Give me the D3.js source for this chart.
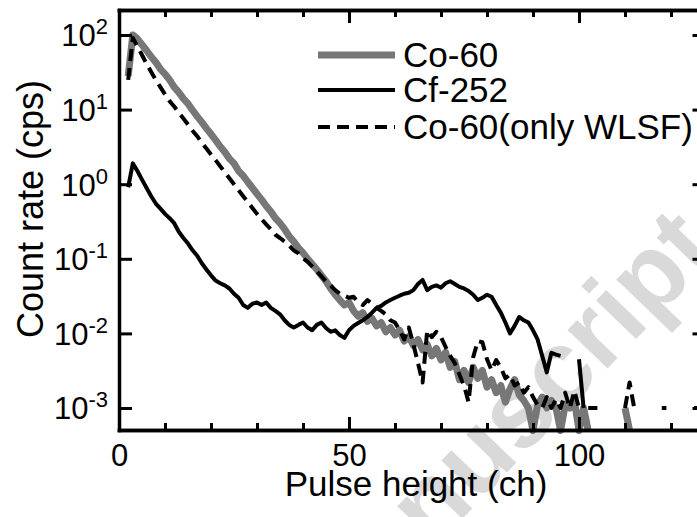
<!DOCTYPE html>
<html>
<head>
<meta charset="utf-8">
<script src="https://cdn.jsdelivr.net/npm/d3@7"></script>
<style>
body { margin: 0; background: #fff; }
svg text { font-family: "Liberation Sans", Arial, sans-serif; fill: #000; }
</style>
</head>
<body>
<svg id="chart"></svg>
<script>
// pulse height spectra, one value per channel starting at channel 2 (cps, 0 = no counts)
let firstChannel = 2

let co60 = [
  28, 100, 89, 74, 62, 51, 43, 35, 30, 25,
  20, 17, 14, 12, 9.8, 8.1, 6.8, 5.6, 4.7, 3.9,
  3.2, 2.7, 2.2, 1.9, 1.5, 1.3, 1.07, 0.89, 0.74, 0.62,
  0.51, 0.43, 0.35, 0.30, 0.25, 0.20, 0.17, 0.14, 0.12, 0.10,
  0.085, 0.072, 0.060, 0.050, 0.040, 0.033, 0.028, 0.024, 0.026, 0.020,
  0.017, 0.019, 0.0145, 0.016, 0.0126, 0.014, 0.0105, 0.012, 0.0095, 0.011,
  0.0079, 0.0091, 0.0069, 0.0083, 0.0060, 0.0071, 0.0050, 0.0063, 0.0044, 0.0056,
  0.0035, 0.0042, 0.0024, 0.0032, 0.0022, 0.0035, 0.0025, 0.0032, 0.0019, 0.0024,
  0.0016, 0.0020, 0.0012, 0.0018, 0.0024, 0.0015, 0.00126, 0.0010, 0.0005, 0.0011,
  0.0014, 0.0010, 0.00126, 0.0010, 0.0005, 0.0011, 0.0010, 0.00126, 0.0005, 0.0010,
  0.0005, 0, 0, 0, 0, 0, 0, 0, 0.0010, 0.0005,
  0, 0, 0, 0, 0, 0, 0, 0, 0, 0,
  0, 0, 0, 0, 0
]

let cf252 = [
  0.91, 1.9, 1.5, 1.15, 0.89, 0.69, 0.55, 0.47, 0.40, 0.35,
  0.30, 0.23, 0.19, 0.16, 0.13, 0.11, 0.087, 0.072, 0.060, 0.051,
  0.047, 0.044, 0.040, 0.034, 0.030, 0.024, 0.022, 0.025, 0.026, 0.024,
  0.026, 0.022, 0.020, 0.018, 0.015, 0.013, 0.012, 0.013, 0.014, 0.012,
  0.011, 0.013, 0.014, 0.0118, 0.0105, 0.011, 0.0095, 0.0087, 0.011, 0.0126,
  0.0138, 0.015, 0.0166, 0.019, 0.022, 0.0234, 0.026, 0.028, 0.030, 0.032,
  0.034, 0.035, 0.038, 0.046, 0.052, 0.038, 0.042, 0.044, 0.041, 0.047,
  0.050, 0.046, 0.042, 0.040, 0.037, 0.033, 0.028, 0.030, 0.033, 0.031,
  0.024, 0.019, 0.014, 0.010, 0.0126, 0.0166, 0.015, 0.014, 0.011, 0.0083,
  0.0050, 0.0030, 0.0055, 0.0052, 0.0050, 0, 0, 0, 0.0045, 0.0010,
  0, 0, 0, 0, 0, 0, 0, 0, 0, 0,
  0, 0, 0, 0, 0, 0, 0, 0, 0, 0,
  0, 0, 0, 0, 0
]

let co60Wlsf = [
  25, 91, 71, 54, 41, 32, 25, 20, 16, 13,
  11, 9.1, 7.6, 6.3, 5.2, 4.4, 3.6, 3.0, 2.5, 2.1,
  1.74, 1.45, 1.2, 1.0, 0.83, 0.69, 0.58, 0.48, 0.40, 0.34,
  0.29, 0.25, 0.21, 0.19, 0.17, 0.15, 0.13, 0.118, 0.102, 0.091,
  0.079, 0.068, 0.058, 0.050, 0.044, 0.038, 0.034, 0.032, 0.030, 0.031,
  0.026, 0.024, 0.028, 0.025, 0.022, 0.020, 0.018, 0.015, 0.014, 0.011,
  0.0083, 0.012, 0.0071, 0.0040, 0.0022, 0.011, 0.0089, 0.0105, 0.0089, 0.0066,
  0.0050, 0.0040, 0.0028, 0.0020, 0.0012, 0.0048, 0.0079, 0.0076, 0.0045, 0.0032,
  0.0044, 0.0035, 0.0025, 0.0028, 0.0020, 0.0022, 0.0016, 0.0019, 0.0014, 0.0011,
  0.0010, 0.0014, 0.0010, 0.0013, 0.0010, 0.0016, 0.0010, 0.0017, 0.0010, 0,
  0.0010, 0.0010, 0.0010, 0, 0, 0, 0, 0, 0.0010, 0.0022,
  0.0010, 0, 0, 0, 0, 0, 0.0010, 0.0010, 0, 0,
  0, 0, 0, 0.0010, 0.0010
]

let seriesNames = ['Co-60', 'Cf-252', 'Co-60(only WLSF)']
let xMajorTicks = [0, 50, 100]
let xMinorTicks = [10, 20, 30, 40, 60, 70, 80, 90, 110, 120]
let yTicks = [1e-3, 1e-2, 1e-1, 1e0, 1e1, 1e2]
let yExponents = ['-3', '-2', '-1', '0', '1', '2']
let xTitle = 'Pulse height (ch)'
let yTitle = 'Count rate (cps)'
let watermark = 'Accepted Manuscript'

let width = 697
let height = 517

let svg = d3.select('#chart')
svg.attr('width', width)
   .attr('height', height)

let xScale = d3.scaleLinear()
               .domain([0, 127.5])
               .range([119, 705.5])

let yScale = d3.scaleLog()
               .domain([Math.pow(10, -3.295), Math.pow(10, 2.335)])
               .range([430, 10])

/* watermark behind everything */
svg.append('text')
   .attr('transform', 'translate(720,252) rotate(-46)')
   .attr('text-anchor', 'end')
   .style('font-size', '105px')
   .style('font-weight', 'bold')
   .style('fill', '#d9d9d9')
   .text(watermark)

/* curves */
let toPoints = (values) => values.map((v, i) => ({ch: firstChannel + i, v: v}))

let line = d3.line()
             .defined((d) => d.v > 0)
             .x((d) => xScale(d.ch))
             .y((d) => yScale(d.v))

let styles = [
  {stroke: '#777', width: 7, dash: null},
  {stroke: '#000', width: 4, dash: null},
  {stroke: '#000', width: 4, dash: '12,7'}
]
let allSeries = [co60, cf252, co60Wlsf]

allSeries.forEach((values, i) => {
  svg.append('path')
     .datum(toPoints(values))
     .attr('d', line)
     .attr('fill', 'none')
     .attr('stroke', styles[i].stroke)
     .attr('stroke-width', styles[i].width)
     .attr('stroke-linejoin', 'round')
     .attr('stroke-dasharray', styles[i].dash)
})

/* axes, ticks pointing inward */
function styleAxis(g) {
  g.attr('font-size', null).attr('font-family', null)
  g.select('.domain').attr('stroke-width', 3.5).attr('stroke-linecap', 'square')
  g.selectAll('.tick line').attr('stroke-width', 3)
}

let bottom = svg.append('g')
   .attr('transform', 'translate(0,430)')
   .call(d3.axisBottom(xScale).tickValues(xMajorTicks).tickSize(-13).tickSizeOuter(0))
   .call(styleAxis)
bottom.selectAll('.tick text')
   .attr('y', 36)
   .attr('dy', 0)
   .style('font-size', '31px')

svg.append('g')
   .attr('transform', 'translate(0,430)')
   .call(d3.axisBottom(xScale).tickValues(xMinorTicks).tickSize(-7).tickSizeOuter(0).tickFormat(''))
   .call(styleAxis)

svg.append('g')
   .attr('transform', 'translate(0,10)')
   .call(d3.axisTop(xScale).tickValues(xMajorTicks).tickSize(-13).tickSizeOuter(0).tickFormat(''))
   .call(styleAxis)

svg.append('g')
   .attr('transform', 'translate(0,10)')
   .call(d3.axisTop(xScale).tickValues(xMinorTicks).tickSize(-7).tickSizeOuter(0).tickFormat(''))
   .call(styleAxis)

let left = svg.append('g')
   .attr('transform', 'translate(119,0)')
   .call(d3.axisLeft(yScale).tickValues(yTicks).tickSize(-13).tickSizeOuter(0).tickFormat(''))
   .call(styleAxis)

left.selectAll('.tick text').each(function(d, i) {
  let t = d3.select(this)
  t.attr('x', -11).attr('y', 11).attr('dy', 0).style('font-size', '31px')
  t.append('tspan').text('10')
  t.append('tspan').attr('dy', -12).style('font-size', '22px').text(yExponents[i])
})

svg.append('g')
   .attr('transform', 'translate(705.5,0)')
   .call(d3.axisRight(yScale).tickValues(yTicks).tickSize(-13).tickSizeOuter(0).tickFormat(''))
   .call(styleAxis)

/* axis titles */
svg.append('text')
   .attr('x', 416)
   .attr('y', 496)
   .attr('text-anchor', 'middle')
   .style('font-size', '35px')
   .text(xTitle)

svg.append('text')
   .attr('transform', 'translate(43,209) rotate(-90)')
   .attr('text-anchor', 'middle')
   .style('font-size', '36px')
   .text(yTitle)

/* legend */
let legendY = [55, 90, 127]
let legend = svg.append('g')
seriesNames.forEach((name, i) => {
  legend.append('line')
        .attr('x1', 318).attr('x2', 395)
        .attr('y1', legendY[i]).attr('y2', legendY[i])
        .attr('stroke', styles[i].stroke)
        .attr('stroke-width', styles[i].width)
        .attr('stroke-dasharray', styles[i].dash)
  legend.append('text')
        .attr('x', 403)
        .attr('y', legendY[i] + 12)
        .style('font-size', '35px')
        .text(name)
})
</script>
</body>
</html>
